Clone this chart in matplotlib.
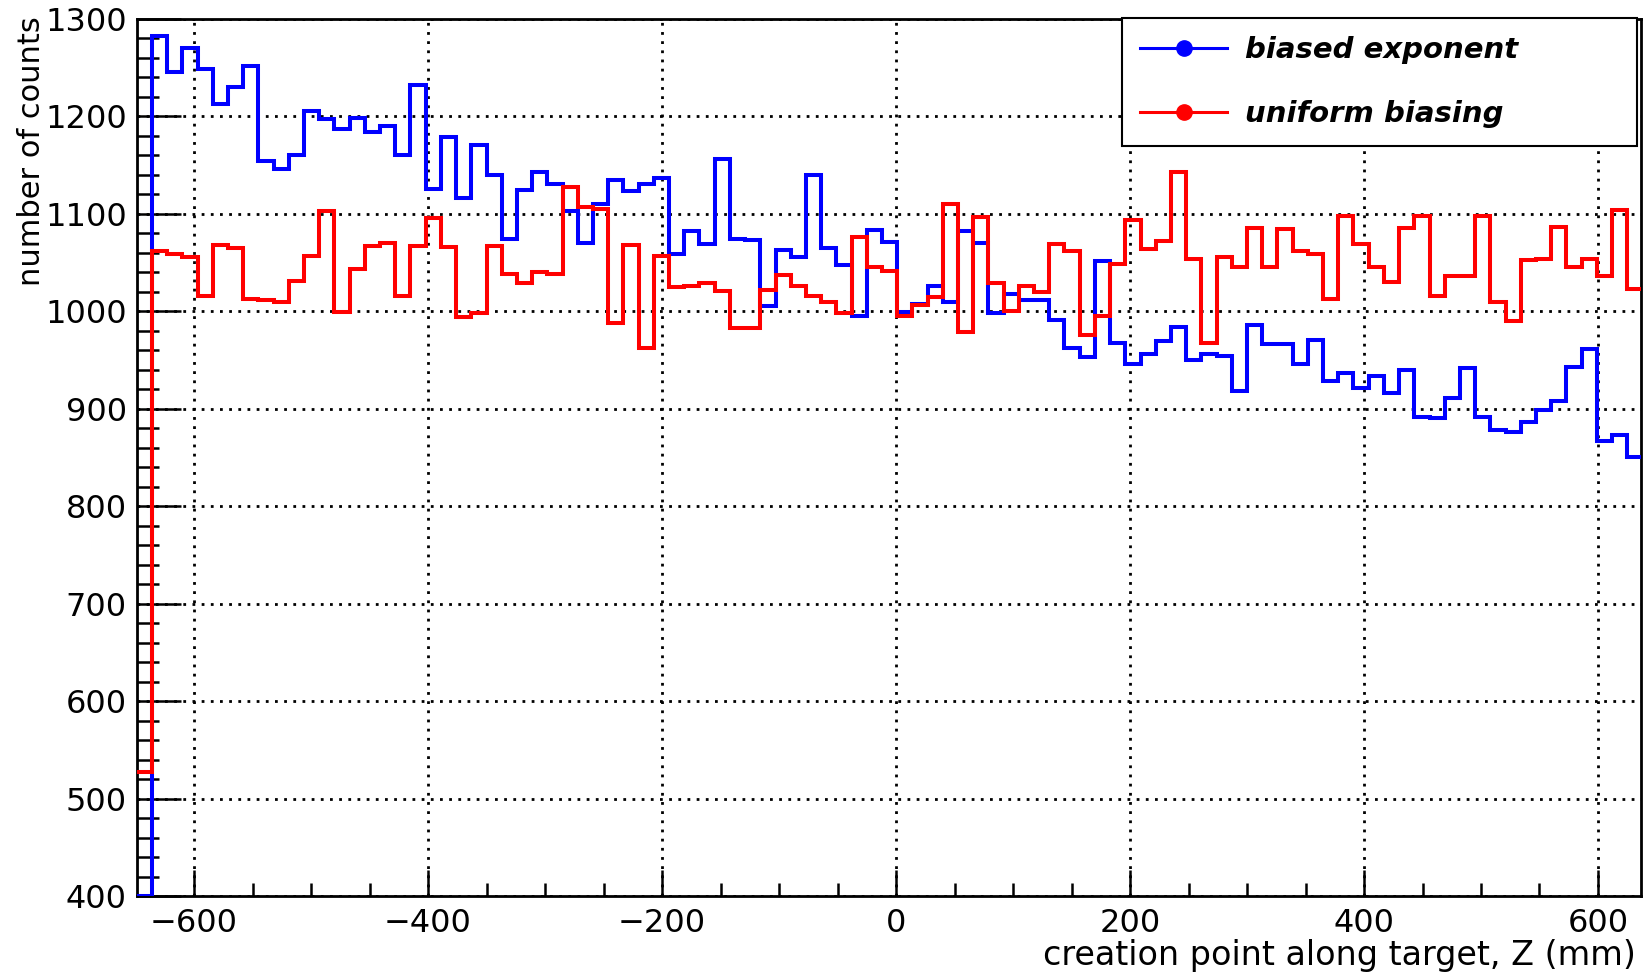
import matplotlib
matplotlib.use("Agg")
import matplotlib.pyplot as plt
import numpy as np
from matplotlib.lines import Line2D
from matplotlib.ticker import MultipleLocator

# histogram binning along the target (mm)
z_lo, z_hi = -649.0, 638.0
n_bins = 99

# counts per bin, biased exponent
biased_exponent = [
    0, 1283, 1246, 1270, 1249, 1213, 1230, 1252, 1154, 1146,
    1160, 1206, 1197, 1187, 1198, 1184, 1190, 1160, 1232, 1126,
    1179, 1116, 1171, 1140, 1074, 1125, 1143, 1131, 1103, 1070,
    1110, 1135, 1124, 1131, 1137, 1059, 1082, 1069, 1156, 1074,
    1073, 1005, 1063, 1056, 1140, 1065, 1048, 995, 1083, 1071,
    999, 1008, 1026, 1010, 1082, 1070, 998, 1018, 1012, 1012,
    991, 962, 953, 1052, 967, 946, 956, 970, 984, 950,
    956, 954, 918, 986, 966, 966, 946, 971, 928, 937,
    921, 934, 916, 940, 892, 891, 911, 942, 892, 878,
    876, 886, 899, 908, 943, 961, 867, 873, 851,
]

# counts per bin, uniform biasing
uniform_biasing = [
    527, 1062, 1059, 1056, 1016, 1068, 1065, 1013, 1012, 1010,
    1031, 1057, 1103, 999, 1043, 1067, 1070, 1016, 1067, 1096,
    1066, 994, 998, 1067, 1038, 1029, 1040, 1038, 1128, 1107,
    1105, 988, 1068, 962, 1057, 1025, 1026, 1029, 1021, 983,
    983, 1022, 1037, 1026, 1016, 1010, 998, 1076, 1046, 1041,
    995, 1006, 1015, 1110, 979, 1097, 1029, 1000, 1026, 1020,
    1069, 1062, 976, 995, 1049, 1094, 1064, 1072, 1143, 1054,
    967, 1056, 1045, 1086, 1046, 1085, 1062, 1059, 1013, 1098,
    1069, 1046, 1030, 1086, 1098, 1016, 1036, 1036, 1098, 1010,
    990, 1053, 1054, 1087, 1045, 1054, 1036, 1104, 1023,
]

series_labels = ["biased exponent", "uniform biasing"]
series_colors = ["#0000ff", "#ff0000"]

y_lo, y_hi = 400, 1300

W, H = 1644, 975
fig = plt.figure(figsize=(W / 100, H / 100), dpi=100)
ax = fig.add_axes([136.7 / W, 1 - 896 / H, (1640.7 - 136.7) / W, (896 - 19) / H])

edges = np.linspace(z_lo, z_hi, n_bins + 1)
for vals, col in zip([biased_exponent, uniform_biasing], series_colors):
    # out-of-range contents are drawn on the frame, ROOT style
    v = np.clip(np.asarray(vals, dtype=float), y_lo, y_hi)
    ax.stairs(v, edges, baseline=None, color=col, linewidth=2.9, zorder=3)

ax.set_xlim(-649, 636.5)
ax.set_ylim(y_lo, y_hi)

ax.xaxis.set_major_locator(MultipleLocator(200))
ax.xaxis.set_minor_locator(MultipleLocator(50))
ax.yaxis.set_major_locator(MultipleLocator(100))
ax.yaxis.set_minor_locator(MultipleLocator(20))

ax.grid(True, which="major", color="black", linewidth=2.0,
        linestyle=(0, (1, 2.3)), zorder=1)

for s in ax.spines.values():
    s.set_linewidth(2.0)

ax.tick_params(axis="x", which="major", direction="in", length=19, width=1.8,
               labelsize=23, pad=9, top=False)
ax.tick_params(axis="x", which="minor", direction="in", length=9.5, width=1.8, top=False)
ax.tick_params(axis="y", which="major", direction="in", length=32, width=1.8,
               labelsize=23, pad=7, right=False)
ax.tick_params(axis="y", which="minor", direction="in", length=16, width=1.8, right=False)

fig.text(1636 / W, 1 - 956 / H, "creation point along target, Z (mm)",
         ha="right", va="center", fontsize=24)
fig.text(31 / W, 1 - 16 / H, "number of counts", rotation=90,
         ha="center", va="top", fontsize=22)

handles = [Line2D([], [], color=c, linewidth=2.2, marker="o", markersize=11)
           for c in series_colors]
leg = ax.legend(handles, series_labels, loc="upper left",
                bbox_to_anchor=(1122 / W, 1 - 147 / H, 515 / W, 129 / H),
                bbox_transform=fig.transFigure, mode="expand", borderaxespad=0,
                prop={"size": 21, "weight": "bold", "style": "italic"},
                handlelength=3.0, handletextpad=0.62, labelspacing=1.25,
                borderpad=0.61, fancybox=False, shadow=False, framealpha=1)
leg.get_frame().set_edgecolor("black")
leg.get_frame().set_linewidth(1.5)
leg.set_zorder(5)

fig.savefig("out.png", dpi=100)
